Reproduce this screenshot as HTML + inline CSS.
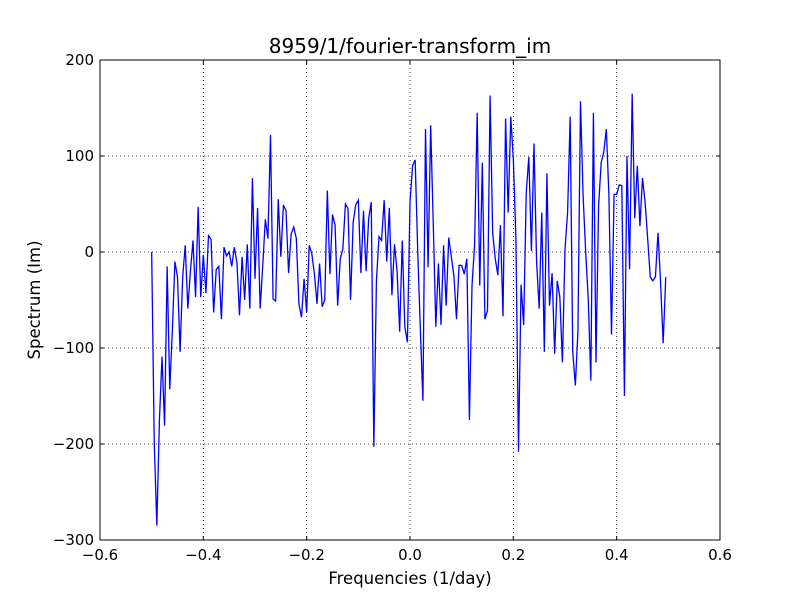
<!DOCTYPE html>
<html><head><meta charset="utf-8"><style>
html,body{margin:0;padding:0;background:#fff;}
svg{display:block;font-family:"DejaVu Sans","Liberation Sans",sans-serif;}
</style></head><body>
<svg id="chart" width="800" height="600" viewBox="0 0 800 600">
<rect x="0" y="0" width="800" height="600" fill="#fff"/>
<text x="410" y="53" font-size="20" text-anchor="middle">8959/1/fourier-transform_im</text>
<g id="grid"></g>
<g id="ticks"></g>
<polyline id="line" fill="none" stroke="#0000ff" stroke-width="1.3"/>
<rect x="100" y="60" width="620" height="480" fill="none" stroke="#000" stroke-width="1"/>
<text x="410" y="584" font-size="16.5" text-anchor="middle">Frequencies (1/day)</text>
<text x="40" y="300" font-size="16.5" text-anchor="middle" transform="rotate(-90 40 300)">Spectrum (Im)</text>
</svg>
<script>
const xTicks = [-0.6, -0.4, -0.2, 0.0, 0.2, 0.4, 0.6];
const xTickLabels = ["\u22120.6", "\u22120.4", "\u22120.2", "0.0", "0.2", "0.4", "0.6"];
const yTicks = [-300, -200, -100, 0, 100, 200];
const yTickLabels = ["\u2212300", "\u2212200", "\u2212100", "0", "100", "200"];
const xStart = -0.5;
const xStep = 0.005;
const values = [
0,-199,-285,-175,-109,-181,-15,-143,-82,-10,-26,-104,-26,7,-59,-20,12,-47,47,-47,
-3,-43,17,13,-63,-18,-15,-70,5,-4,0,-15,5,-11,-66,-5,-50,8,-59,77,
-28,46,-59,-14,34,14,122,-49,-51,55,-5,49,43,-22,19,26,14,-54,-68,-28,
-63,7,-2,-23,-54,-12,-57,-50,64,-23,39,28,-56,-7,3,50,45,-50,31,49,
54,-22,43,-20,35,52,-203,-30,16,12,54,-10,46,-45,8,-20,-83,12,-78,-94,
52,90,96,0,-80,-155,
128,-16,132,30,-78,-12,-76,7,-56,15,-5,-25,-70,-14,-14,-23,-7,-175,-35,7,
145,-35,93,-70,-61,163,20,-7,-24,28,-67,139,41,141,97,14,-208,-34,-76,62,
99,1,113,-10,-59,
41,-104,82,-56,-22,-106,-30,-47,-115,3,41,141,-104,-139,-83,157,59,0,-49,-134,
145,-115,48,93,104,128,59,-86,60,60,70,69,-150,100,-18,165,35,90,27,77,
52,14,-26,-30,-26,20,-32,-95,-26
];
const L=100,R=720,T=60,B=540,xMin=-0.6,xMax=0.6,yMin=-300,yMax=200;
function xs(v){return L+(v-xMin)/(xMax-xMin)*(R-L);}
function ys(v){return B-(v-yMin)/(yMax-yMin)*(B-T);}
const NS="http://www.w3.org/2000/svg";
const grid=document.getElementById('grid'), ticks=document.getElementById('ticks');
function mk(tag,attrs,parent){const e=document.createElementNS(NS,tag);for(const k in attrs)e.setAttribute(k,attrs[k]);parent.appendChild(e);return e;}
xTicks.forEach((t,i)=>{
  const x=xs(t);
  if(i>0&&i<xTicks.length-1){
    const g=mk('line',{x1:x,x2:x,y1:T,y2:B,stroke:'#000','stroke-width':0.8,'stroke-dasharray':'1,3'},grid);
    
    
  }
  const a=mk('line',{x1:x,x2:x,y1:B,y2:B-4,stroke:'#000'},ticks);
  
  
  const b=mk('line',{x1:x,x2:x,y1:T,y2:T+4,stroke:'#000'},ticks);
  
  
  const tx=mk('text',{x:x,y:B+20,'font-size':15,'text-anchor':'middle'},ticks);
  tx.textContent=xTickLabels[i];
  
  
});
yTicks.forEach((t,i)=>{
  const y=ys(t);
  if(i>0&&i<yTicks.length-1){
    const g=mk('line',{x1:L,x2:R,y1:y,y2:y,stroke:'#000','stroke-width':0.8,'stroke-dasharray':'1,3'},grid);
    
    
  }
  const a=mk('line',{x1:L,x2:L+4,y1:y,y2:y,stroke:'#000'},ticks);
  
  
  const b=mk('line',{x1:R,x2:R-4,y1:y,y2:y,stroke:'#000'},ticks);
  
  
  const tx=mk('text',{x:L-6,y:y+5,'font-size':15,'text-anchor':'end'},ticks);
  tx.textContent=yTickLabels[i];
  
  
});
document.getElementById('line').setAttribute('points',values.map((v,i)=>xs(xStart+i*xStep).toFixed(2)+','+ys(v).toFixed(2)).join(' '));
</script>
</body></html>
